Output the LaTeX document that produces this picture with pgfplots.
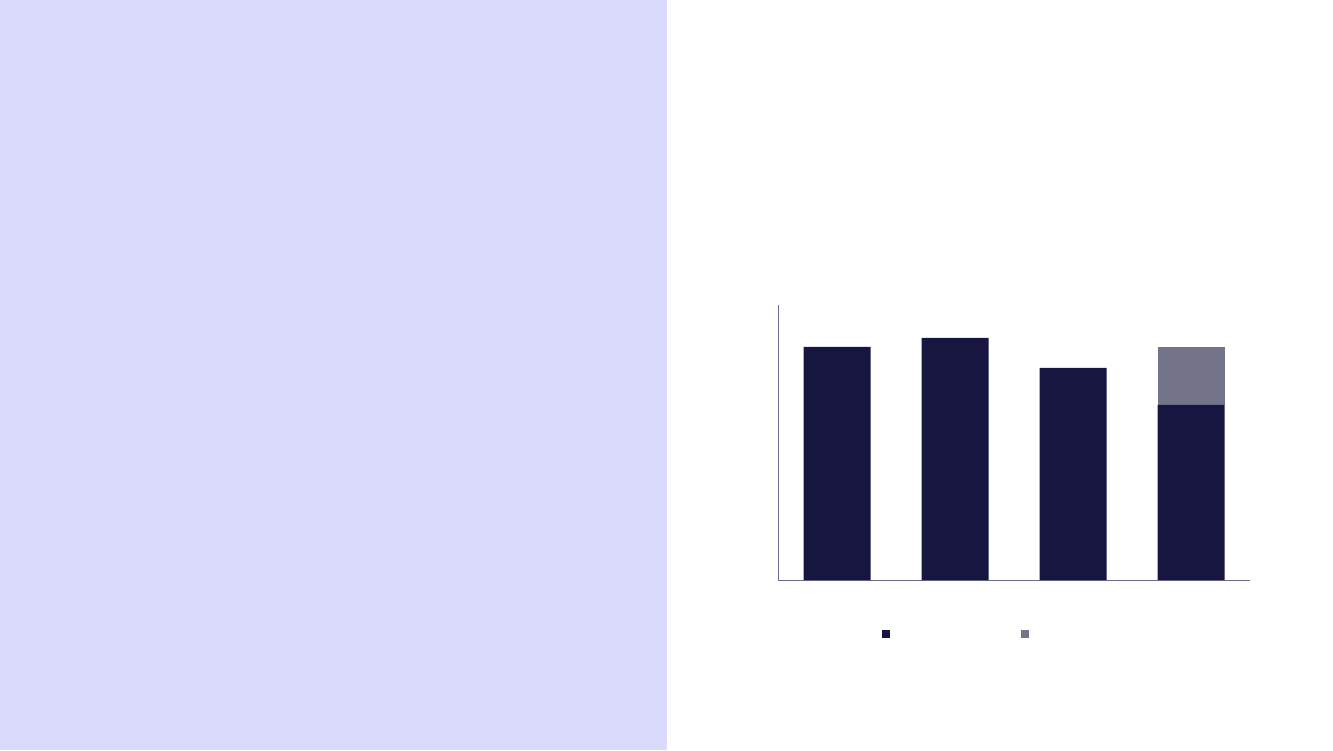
\documentclass[border=0pt]{standalone}
\usepackage{pgfplots}
\pgfplotsset{compat=1.18}
\definecolor{panel}{HTML}{DADAFC}
\definecolor{navy}{HTML}{161640}
\definecolor{slate}{HTML}{737389}
\definecolor{axisline}{HTML}{6E6A8C}
\pgfplotsset{squarelegend/.style={legend image code/.code={\fill[##1] (0pt,-4pt) rectangle (8pt,4pt);}}}
\begin{document}
\begin{tikzpicture}
% page is 1333 x 750 (1pt per pixel)
\path[use as bounding box] (0,0) rectangle (1333pt,750pt);
\fill[panel] (0,0) rectangle (667pt,750pt);
\begin{axis}[
  at={(778pt,170pt)}, anchor=south west,
  scale only axis,
  width=472pt, height=275pt,
  ybar stacked,
  bar width=67pt,
  xmin=-0.5, xmax=3.5,
  ymin=0, ymax=275,
  axis x line=bottom, axis y line=left,
  axis line style={-, draw=axisline, line width=1pt},
  xtick=\empty, ytick=\empty,
  legend columns=2,
  legend style={at={(0.2203,-0.1964)}, anchor=west, draw=none, fill=none,
    inner sep=0pt, outer sep=0pt, nodes={inner sep=0pt, outer sep=0pt},
    /tikz/every even column/.append style={column sep=130pt}},
  squarelegend,
]
\addplot[fill=navy, draw=none] coordinates {(0,233) (1,242) (2,212) (3,175)};
\addlegendentry{\mbox{}}
\addplot[fill=slate, draw=none] coordinates {(0,0) (1,0) (2,0) (3,58)};
\addlegendentry{\mbox{}}
\end{axis}
\end{tikzpicture}
\end{document}
